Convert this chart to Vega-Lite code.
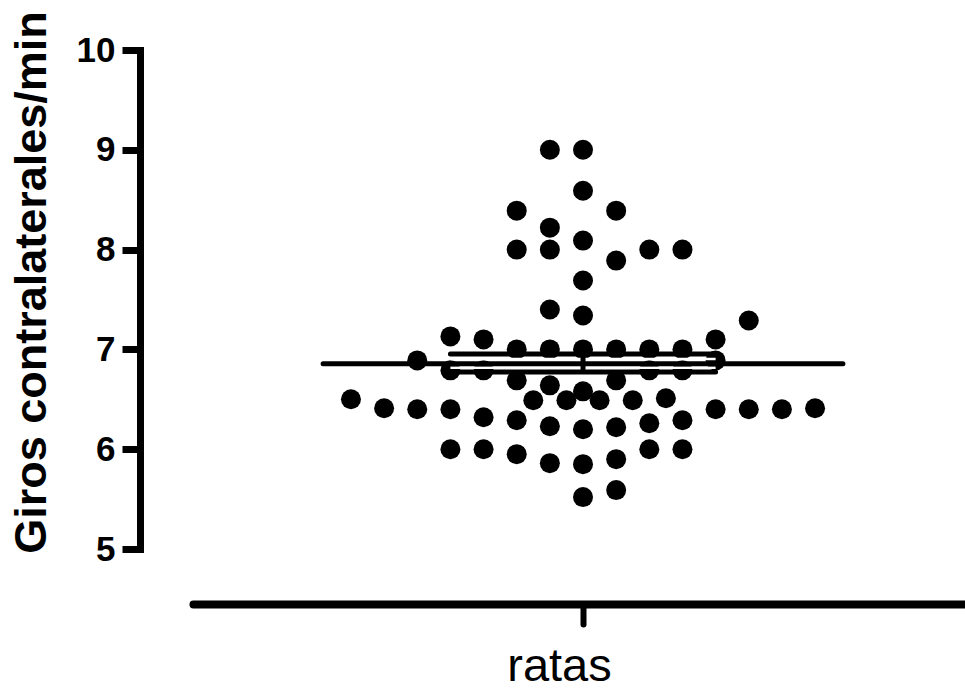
{
  "$schema": "https://vega.github.io/schema/vega-lite/v6.json",
  "width": 772,
  "height": 499,
  "autosize": {"type": "none"},
  "padding": {"left": 193, "top": 50, "right": 0, "bottom": 142},
  "background": "white",
  "config": {"view": {"stroke": null}, "font": "Liberation Sans"},
  "datasets": {
    "rats": [
      {"col": -1, "value": 9.0}, {"col": 0, "value": 9.0}, {"col": 0, "value": 8.59},
      {"col": -2, "value": 8.39}, {"col": 1, "value": 8.39}, {"col": -1, "value": 8.22},
      {"col": -2, "value": 8.0}, {"col": -1, "value": 8.0}, {"col": 0, "value": 8.09},
      {"col": 1, "value": 7.89}, {"col": 2, "value": 8.0}, {"col": 3, "value": 8.0},
      {"col": 0, "value": 7.69}, {"col": -1, "value": 7.4}, {"col": 0, "value": 7.34},
      {"col": 5, "value": 7.29}, {"col": -4, "value": 7.13}, {"col": -3, "value": 7.1},
      {"col": -2, "value": 7.0}, {"col": -1, "value": 7.0}, {"col": 0, "value": 7.0},
      {"col": 1, "value": 7.0}, {"col": 2, "value": 7.0}, {"col": 3, "value": 7.0},
      {"col": 4, "value": 7.1}, {"col": 4, "value": 6.89}, {"col": -5, "value": 6.89},
      {"col": -4, "value": 6.79}, {"col": -3, "value": 6.79}, {"col": -2, "value": 6.69},
      {"col": -1, "value": 6.64}, {"col": 0, "value": 6.58}, {"col": 1, "value": 6.69},
      {"col": 2, "value": 6.79}, {"col": 3, "value": 6.79},
      {"col": -1.5, "value": 6.49}, {"col": -0.5, "value": 6.49}, {"col": 0.5, "value": 6.49},
      {"col": 1.5, "value": 6.49}, {"col": 2.5, "value": 6.51},
      {"col": -7, "value": 6.5}, {"col": -6, "value": 6.41}, {"col": -5, "value": 6.4},
      {"col": -4, "value": 6.4}, {"col": -3, "value": 6.32}, {"col": -2, "value": 6.29},
      {"col": -1, "value": 6.23}, {"col": 0, "value": 6.2}, {"col": 1, "value": 6.22},
      {"col": 2, "value": 6.26}, {"col": 3, "value": 6.29}, {"col": 4, "value": 6.4},
      {"col": 5, "value": 6.4}, {"col": 6, "value": 6.4}, {"col": 7, "value": 6.41},
      {"col": -4, "value": 6.0}, {"col": -3, "value": 6.0}, {"col": -2, "value": 5.95},
      {"col": -1, "value": 5.86}, {"col": 0, "value": 5.85}, {"col": 1, "value": 5.9},
      {"col": 2, "value": 6.0}, {"col": 3, "value": 6.0}, {"col": 0, "value": 5.52},
      {"col": 1, "value": 5.59}
    ],
    "stripes": [
      {"y": 6.905, "x1": -4, "x2": 4},
      {"y": 6.815, "x1": -4, "x2": 4}
    ],
    "caps": [
      {"y": 6.954, "x1": -4, "x2": 4},
      {"y": 6.774, "x1": -4, "x2": 4}
    ],
    "mean": [
      {"y": 6.855, "x1": -7.84, "x2": 7.84}
    ],
    "sem": [
      {"x1": 0, "y": 6.774, "y2": 6.954}
    ]
  },
  "encoding": {
    "x": {
      "type": "quantitative",
      "title": "ratas",
      "scale": {"domain": [-11.765, 11.523], "nice": false, "zero": false},
      "axis": {
        "values": [0], "labels": false, "title": "ratas", "offset": 55,
        "domainWidth": 8, "domainColor": "black", "domainCap": "round",
        "tickColor": "black", "tickWidth": 6, "tickSize": 20, "tickCap": "round",
        "titleFont": "Liberation Sans", "titleFontSize": 47, "titleFontWeight": "normal",
        "titleColor": "black", "titleX": 366, "titleY": 76,
        "titleBaseline": "alphabetic", "titleAlign": "center", "grid": false
      }
    },
    "y": {
      "type": "quantitative",
      "title": "Giros contralaterales/min",
      "scale": {"domain": [5, 10], "nice": false, "zero": false},
      "axis": {
        "values": [5, 6, 7, 8, 9, 10], "title": "Giros contralaterales/min", "offset": 53,
        "domainWidth": 7, "domainColor": "black", "domainCap": "square",
        "tickColor": "black", "tickWidth": 7, "tickSize": 18,
        "labelFont": "Liberation Sans", "labelFontWeight": "bold", "labelFontSize": 35,
        "labelColor": "black", "labelPadding": 7, "labelFlush": false,
        "titleFont": "Liberation Sans", "titleFontSize": 45, "titleFontWeight": "bold",
        "titleColor": "black", "titleX": -95, "titleY": 232, "titleAngle": -90,
        "titleAlign": "center", "titleBaseline": "alphabetic", "grid": false
      }
    }
  },
  "layer": [
    {
      "data": {"name": "rats"},
      "mark": {"type": "circle", "size": 400, "color": "black", "opacity": 1},
      "encoding": {
        "x": {"field": "col"},
        "y": {"field": "value"}
      }
    },
    {
      "data": {"name": "stripes"},
      "mark": {"type": "rule", "color": "white", "strokeWidth": 2.5},
      "encoding": {
        "x": {"field": "x1"},
        "x2": {"field": "x2"},
        "y": {"field": "y"}
      }
    },
    {
      "data": {"name": "caps"},
      "mark": {"type": "rule", "color": "black", "strokeWidth": 5, "strokeCap": "round"},
      "encoding": {
        "x": {"field": "x1"},
        "x2": {"field": "x2"},
        "y": {"field": "y"}
      }
    },
    {
      "data": {"name": "sem"},
      "mark": {"type": "rule", "color": "black", "strokeWidth": 5},
      "encoding": {
        "x": {"field": "x1"},
        "y": {"field": "y"},
        "y2": {"field": "y2"}
      }
    },
    {
      "data": {"name": "mean"},
      "mark": {"type": "rule", "color": "black", "strokeWidth": 5, "strokeCap": "round"},
      "encoding": {
        "x": {"field": "x1"},
        "x2": {"field": "x2"},
        "y": {"field": "y"}
      }
    }
  ]
}
